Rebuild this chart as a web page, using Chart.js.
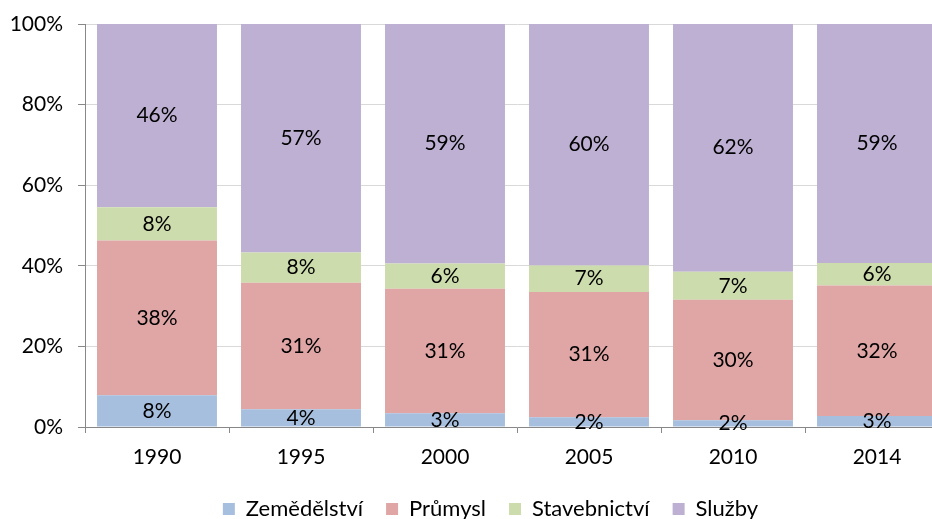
<!DOCTYPE html>
<html><head><meta charset="utf-8">
<script src="https://cdn.jsdelivr.net/npm/chart.js@4"></script>
<style>html,body{margin:0;padding:0;overflow:hidden;background:#fff;width:932px;height:519px}
#wrap{width:986px;height:519px;position:relative}</style>
</head><body><div id="wrap"><canvas id="c" width="986" height="519"></canvas></div>
<script>
const categories = ['1990','1995','2000','2005','2010','2014'];
const zemedelstvi = [7.9, 4.4, 3.4, 2.4, 1.7, 2.7];
const prumysl = [38.4, 31.4, 30.9, 31.1, 29.9, 32.4];
const stavebnictvi = [8.2, 7.5, 6.3, 6.6, 6.9, 5.6];
const sluzby = [45.6, 56.7, 59.4, 59.9, 61.6, 59.3];
const yTicks = [0, 20, 40, 60, 80, 100];

const FONT = 'Lato, "Open Sans", sans-serif';
const labelPlugin = {
  id: 'segLabels',
  afterLayout(chart) {
    if (chart.legend) { chart.legend.left += 16; chart.legend.right += 16; }
  },
  afterDatasetsDraw(chart) {
    const ctx = chart.ctx;
    ctx.save();
    ctx.font = '21px ' + FONT;
    ctx.fillStyle = '#000';
    ctx.textAlign = 'center';
    ctx.textBaseline = 'middle';
    chart.data.datasets.forEach((ds, i) => {
      const meta = chart.getDatasetMeta(i);
      meta.data.forEach((el, j) => {
        const v = ds.data[j];
        const cy = (el.y + el.base) / 2;
        ctx.fillText(Math.round(v) + '%', el.x, cy);
      });
    });
    ctx.restore();
  }
};

new Chart(document.getElementById('c'), {
  type: 'bar',
  data: {
    labels: categories,
    datasets: [
      {label: 'Zemědělství', data: zemedelstvi, backgroundColor: '#a7bfde'},
      {label: 'Průmysl', data: prumysl, backgroundColor: '#dfa6a5'},
      {label: 'Stavebnictví', data: stavebnictvi, backgroundColor: '#cddcac'},
      {label: 'Služby', data: sluzby, backgroundColor: '#beb0d3'}
    ]
  },
  options: {
    responsive: false,
    animation: false,
    layout: {padding: {top: 24, left: 0, right: 37, bottom: -11}},
    datasets: {bar: {barPercentage: 0.833, categoryPercentage: 1.0}},
    plugins: {
      legend: {
        position: 'bottom',
        labels: {font: {size: 22, family: FONT}, color: '#000', boxWidth: 12, boxHeight: 12, padding: 23}
      },
      tooltip: {enabled: false}
    },
    scales: {
      x: {
        stacked: true,
        afterFit(scale) { scale.height = 48; },
        grid: {display: true, drawOnChartArea: false, offset: true, tickLength: 6, color: '#888'},
        border: {color: '#888'},
        ticks: {font: {size: 21, family: FONT}, color: '#000', padding: 12}
      },
      y: {
        stacked: true,
        min: 0, max: 100,
        afterBuildTicks(scale) { scale.ticks = yTicks.map(v => ({value: v})); },
        afterFit(scale) { scale.width = 85; scale.paddingTop = 0; scale.paddingBottom = 0; },
        grid: {color: '#d9d9d9', tickLength: 7, tickColor: '#888'},
        border: {color: '#888'},
        ticks: {font: {size: 21, family: FONT}, color: '#000', padding: 15, callback: v => v + '%'}
      }
    }
  },
  plugins: [labelPlugin]
});
</script></body></html>
